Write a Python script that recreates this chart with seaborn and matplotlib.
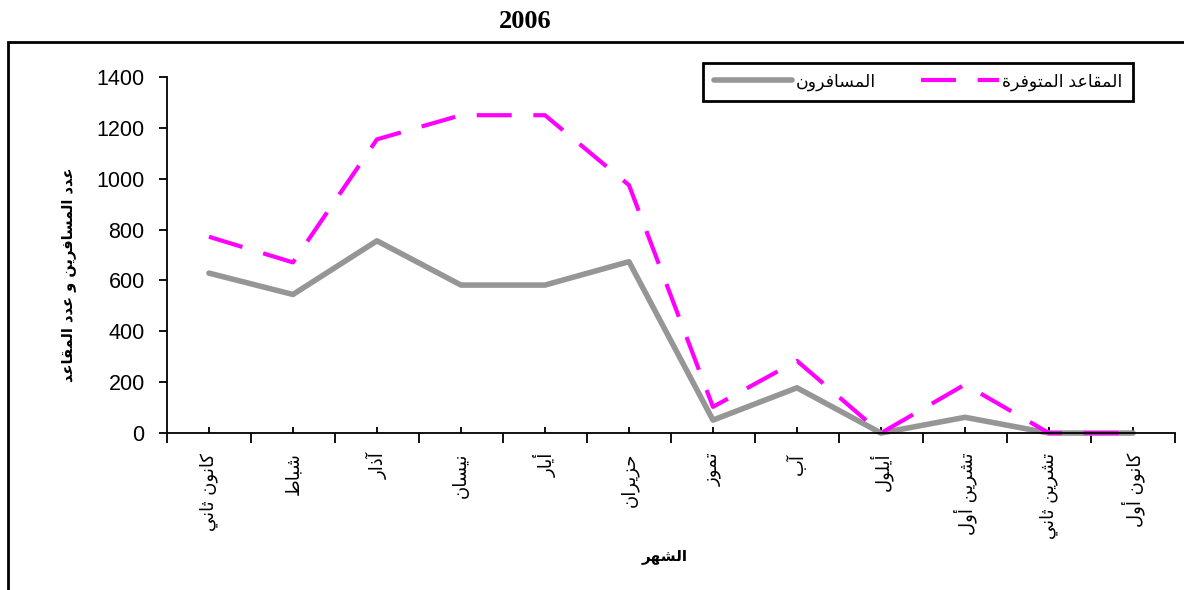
import numpy as np
import pandas as pd
import seaborn as sns
import matplotlib.pyplot as plt
from matplotlib.patches import Rectangle

months = ["كانون ثاني", "شباط", "آذار", "نيسان", "أيار", "حزيران",
          "تموز", "آب", "أيلول", "تشرين أول", "تشرين ثاني", "كانون أول"]
passengers = [629, 545, 756, 582, 582, 674, 51, 178, 0, 62, 0, 0]
seats = [772, 671, 1155, 1250, 1250, 975, 103, 284, 0, 191, 0, 0]
yticks = [0, 200, 400, 600, 800, 1000, 1200, 1400]
title = "2006"
xlabel = "الشهر"
ylabel = "عدد المسافرين و عدد المقاعد"
series_names = ["المسافرون", "المقاعد المتوفرة"]

# matplotlib does no arabic shaping, so pick the presentation forms by hand
# letter -> (isolated form, joins to the following letter)
FORMS = {
    "ء": (0xFE80, False), "آ": (0xFE81, False), "أ": (0xFE83, False),
    "ؤ": (0xFE85, False), "إ": (0xFE87, False), "ئ": (0xFE89, True),
    "ا": (0xFE8D, False), "ب": (0xFE8F, True), "ة": (0xFE93, False),
    "ت": (0xFE95, True), "ث": (0xFE99, True), "ج": (0xFE9D, True),
    "ح": (0xFEA1, True), "خ": (0xFEA5, True), "د": (0xFEA9, False),
    "ذ": (0xFEAB, False), "ر": (0xFEAD, False), "ز": (0xFEAF, False),
    "س": (0xFEB1, True), "ش": (0xFEB5, True), "ص": (0xFEB9, True),
    "ض": (0xFEBD, True), "ط": (0xFEC1, True), "ظ": (0xFEC5, True),
    "ع": (0xFEC9, True), "غ": (0xFECD, True), "ف": (0xFED1, True),
    "ق": (0xFED5, True), "ك": (0xFED9, True), "ل": (0xFEDD, True),
    "م": (0xFEE1, True), "ن": (0xFEE5, True), "ه": (0xFEE9, True),
    "و": (0xFEED, False), "ى": (0xFEEF, False), "ي": (0xFEF1, True),
}


def shape(text):
    out = []
    for i, ch in enumerate(text):
        if ch not in FORMS:
            out.append(ch)
            continue
        iso, dual = FORMS[ch]
        if ch == "ء":
            out.append(chr(iso))
            continue
        prev = text[i - 1] if i > 0 else ""
        nxt = text[i + 1] if i + 1 < len(text) else ""
        after = prev in FORMS and FORMS[prev][1]
        before = dual and nxt in FORMS and nxt != "ء"
        if after and before:
            out.append(chr(iso + 3))
        elif after:
            out.append(chr(iso + 1))
        elif before:
            out.append(chr(iso + 2))
        else:
            out.append(chr(iso))
    return "".join(reversed(out))


sns.set_style("ticks")
plt.rcParams['font.family'] = ['Liberation Sans', 'DejaVu Sans']
plt.rcParams['text.color'] = 'black'
plt.rcParams['xtick.color'] = 'black'
plt.rcParams['ytick.color'] = 'black'
plt.rcParams['axes.edgecolor'] = 'black'

df = pd.DataFrame({"x": np.arange(len(months)), "passengers": passengers, "seats": seats})

fig = plt.figure(figsize=(11.84, 5.9), dpi=100)
ax = fig.add_axes([0.141, 0.266, 0.8514, 0.6034])

sns.lineplot(data=df, x="x", y="passengers", ax=ax, color="#969696", lw=4,
             solid_capstyle="round", label=shape(series_names[0]), clip_on=False)
sns.lineplot(data=df, x="x", y="seats", ax=ax, color="#FF00FF", lw=3,
             linestyle=(0, (8.4, 5.2)), label=shape(series_names[1]), clip_on=False)

ax.set_xlim(-0.5, 11.5)
ax.set_ylim(0, 1400)
ax.set_yticks(yticks)
ax.set_yticklabels([str(v) for v in yticks], fontsize=15.5)
ax.set_xticks(np.arange(-0.5, 12, 1))
ax.set_xticklabels([])
ax.set_xticks(df["x"], minor=True)
ax.set_xticklabels([shape(m) for m in months], minor=True, rotation=90,
                   fontsize=13, family=['DejaVu Sans'], va='top', ha='center')
ax.tick_params(axis='x', which='major', direction='out', length=7, width=1.3)
ax.tick_params(axis='x', which='minor', direction='in', length=4, width=1.3, pad=14)
ax.tick_params(axis='y', direction='out', length=6, width=1.3, pad=10)
ax.set_xlabel("")
ax.set_ylabel("")
sns.despine(ax=ax)
for side in ["left", "bottom"]:
    ax.spines[side].set_linewidth(1.3)

leg = ax.legend(loc='upper right', bbox_to_anchor=(1133 / 1184, 1 - 63 / 590),
                bbox_transform=fig.transFigure, ncol=2,
                handlelength=4.5, handletextpad=0.2, columnspacing=2.6,
                borderaxespad=0, borderpad=0.6, fancybox=False, framealpha=1,
                prop={'family': ['Liberation Sans', 'DejaVu Sans'], 'size': 12.5})
leg.get_frame().set_edgecolor("black")
leg.get_frame().set_linewidth(2)

fig.text(525 / 1184, 1 - 22 / 590, title, ha='center', va='center',
         family='Liberation Serif', fontweight='bold', fontsize=19)
fig.text(665 / 1184, 1 - 557 / 590, shape(xlabel), ha='center', va='center',
         family=['DejaVu Sans'], fontweight='bold', fontsize=11)
fig.text(68 / 1184, 1 - 275 / 590, shape(ylabel), ha='center', va='center',
         rotation=90, family=['DejaVu Sans'], fontweight='bold', fontsize=10.5)

fig.patches.append(Rectangle((8 / 1184, -0.1), 1.2, 1 - 42 / 590 + 0.1,
                             transform=fig.transFigure, fill=False,
                             edgecolor='black', lw=2, clip_on=False))

fig.savefig("out.png", dpi=100)
